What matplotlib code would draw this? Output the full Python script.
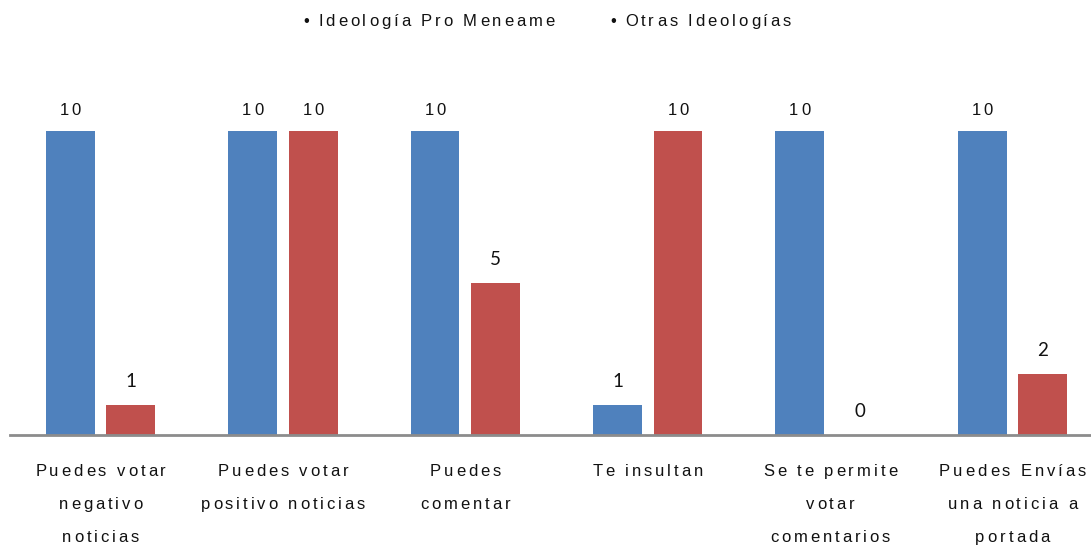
import matplotlib
matplotlib.use("Agg")
from matplotlib import pyplot as plt
from matplotlib.font_manager import FontProperties

categories = [
    ["Puedes votar", "negativo", "noticias"],
    ["Puedes votar", "positivo noticias"],
    ["Puedes", "comentar"],
    ["Te insultan"],
    ["Se te permite", "votar", "comentarios"],
    ["Puedes Envías", "una noticia a", "portada"],
]
pro_meneame = [10, 10, 10, 1, 10, 10]
otras = [1, 10, 5, 10, 0, 2]
series_names = ["Ideología Pro Meneame", "Otras Ideologías"]
colors = ["#4F81BD", "#C0504D"]

W, H = 1091, 546
fig = plt.figure(figsize=(W / 100, H / 100), dpi=100)
ax = fig.add_axes([10 / W, 111 / H, 1 - 10 / W, 435 / H])

x = list(range(len(categories)))
bw = 0.268
off = 0.166
ax.bar([i - off for i in x], pro_meneame, width=bw, color=colors[0])
ax.bar([i + off for i in x], otras, width=bw, color=colors[1])

ax.set_xlim(-0.496, 5.43)
ax.set_ylim(0, 14.31)
for s in ["top", "right", "left"]:
    ax.spines[s].set_visible(False)
ax.spines["bottom"].set_color("#8c8c8c")
ax.spines["bottom"].set_linewidth(2)
ax.set_xticks([])
ax.set_yticks([])

renderer = fig.canvas.get_renderer()


def spaced_text(px, py, s, size=12, spacing=2.9, family="Liberation Sans", ha="center"):
    # px, py: pixel coords (origin bottom-left), py is the baseline
    prop = FontProperties(family=family, size=size)
    widths = []
    for c in s:
        if c == " ":
            widths.append(0.278 * size * 100 / 72)
        else:
            widths.append(renderer.get_text_width_height_descent(c, prop, ismath=False)[0])
    total = sum(widths) + spacing * (len(s) - 1)
    cx = px - total / 2 if ha == "center" else px
    for c, w in zip(s, widths):
        if c != " ":
            fig.text(cx / W, py / H, c, fontproperties=prop, ha="left", va="baseline", color="#111111")
        cx += w + spacing


def to_px(xd, yd):
    return ax.transData.transform((xd, yd))


# category labels
for i, lines in enumerate(categories):
    cx, _ = to_px(i, 0)
    for j, line in enumerate(lines):
        spaced_text(cx, H - 476 - 33 * j, line)

# value labels
for vals, sign in [(pro_meneame, -1), (otras, 1)]:
    for i, v in enumerate(vals):
        px, py = to_px(i + sign * off, v)
        if v >= 10:
            spaced_text(px, py + 16, str(v))
        else:
            fig.text(px / W, (py + 18) / H, str(v), family="Lato", size=13.5,
                     ha="center", va="baseline", color="#111111")

# legend
spaced_text(303, H - 26, "•", ha="left")
spaced_text(318, H - 26, series_names[0], ha="left")
spaced_text(610, H - 26, "•", ha="left")
spaced_text(625, H - 26, series_names[1], ha="left")

fig.savefig("out.png", dpi=100)
